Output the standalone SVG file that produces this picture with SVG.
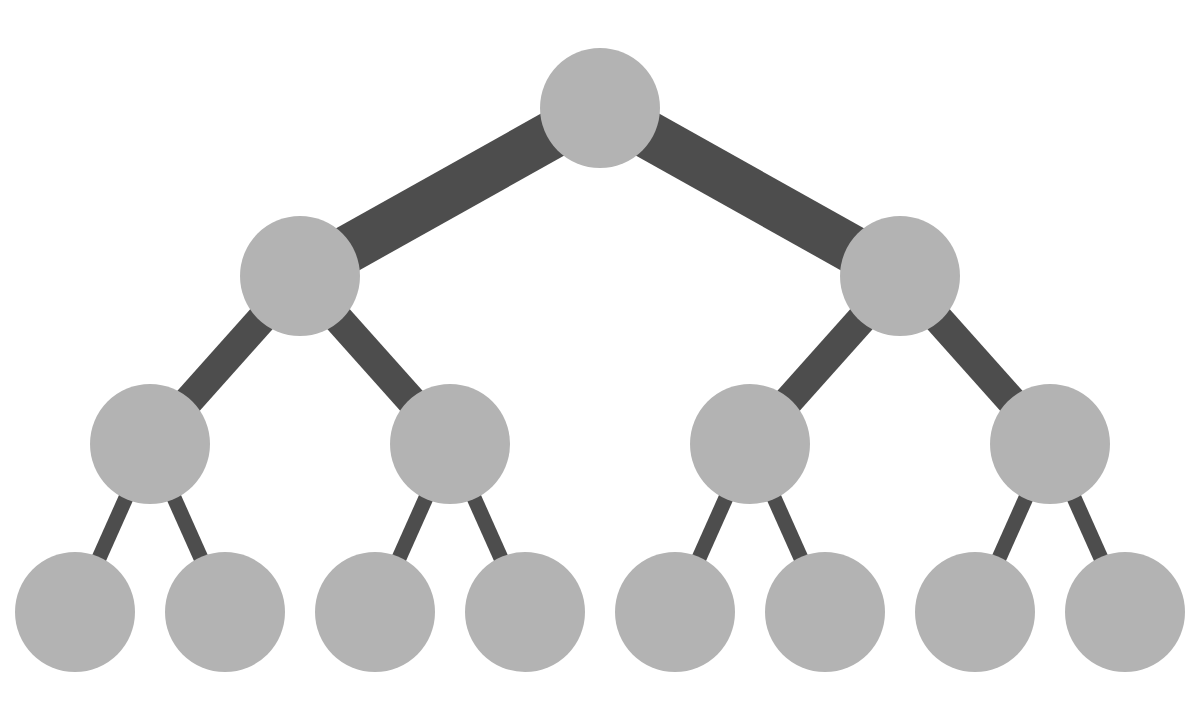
<svg xmlns="http://www.w3.org/2000/svg" width="1200" height="720" viewBox="0 0 1200 720">
<style>
.edge{stroke:#4d4d4d;stroke-linecap:butt;fill:none}
.e1{stroke-width:48}
.e2{stroke-width:30}
.e3{stroke-width:15}
.node{fill:#b3b3b3}
</style>
<rect width="1200" height="720" fill="#ffffff"/>
<g id="connectors">
<line class="edge e1" x1="600" y1="108" x2="300" y2="276"/>
<line class="edge e1" x1="600" y1="108" x2="900" y2="276"/>
<line class="edge e2" x1="300" y1="276" x2="150" y2="444"/>
<line class="edge e2" x1="300" y1="276" x2="450" y2="444"/>
<line class="edge e2" x1="900" y1="276" x2="750" y2="444"/>
<line class="edge e2" x1="900" y1="276" x2="1050" y2="444"/>
<line class="edge e3" x1="150" y1="444" x2="75" y2="612"/>
<line class="edge e3" x1="150" y1="444" x2="225" y2="612"/>
<line class="edge e3" x1="450" y1="444" x2="375" y2="612"/>
<line class="edge e3" x1="450" y1="444" x2="525" y2="612"/>
<line class="edge e3" x1="750" y1="444" x2="675" y2="612"/>
<line class="edge e3" x1="750" y1="444" x2="825" y2="612"/>
<line class="edge e3" x1="1050" y1="444" x2="975" y2="612"/>
<line class="edge e3" x1="1050" y1="444" x2="1125" y2="612"/>
</g>
<g id="n0"><circle class="node" cx="600" cy="108" r="60"/></g>
<g id="n1"><circle class="node" cx="300" cy="276" r="60"/></g>
<g id="n2"><circle class="node" cx="900" cy="276" r="60"/></g>
<g id="n3"><circle class="node" cx="150" cy="444" r="60"/></g>
<g id="n4"><circle class="node" cx="450" cy="444" r="60"/></g>
<g id="n5"><circle class="node" cx="750" cy="444" r="60"/></g>
<g id="n6"><circle class="node" cx="1050" cy="444" r="60"/></g>
<g id="n7"><circle class="node" cx="75" cy="612" r="60"/></g>
<g id="n8"><circle class="node" cx="225" cy="612" r="60"/></g>
<g id="n9"><circle class="node" cx="375" cy="612" r="60"/></g>
<g id="n10"><circle class="node" cx="525" cy="612" r="60"/></g>
<g id="n11"><circle class="node" cx="675" cy="612" r="60"/></g>
<g id="n12"><circle class="node" cx="825" cy="612" r="60"/></g>
<g id="n13"><circle class="node" cx="975" cy="612" r="60"/></g>
<g id="n14"><circle class="node" cx="1125" cy="612" r="60"/></g>
</svg>
